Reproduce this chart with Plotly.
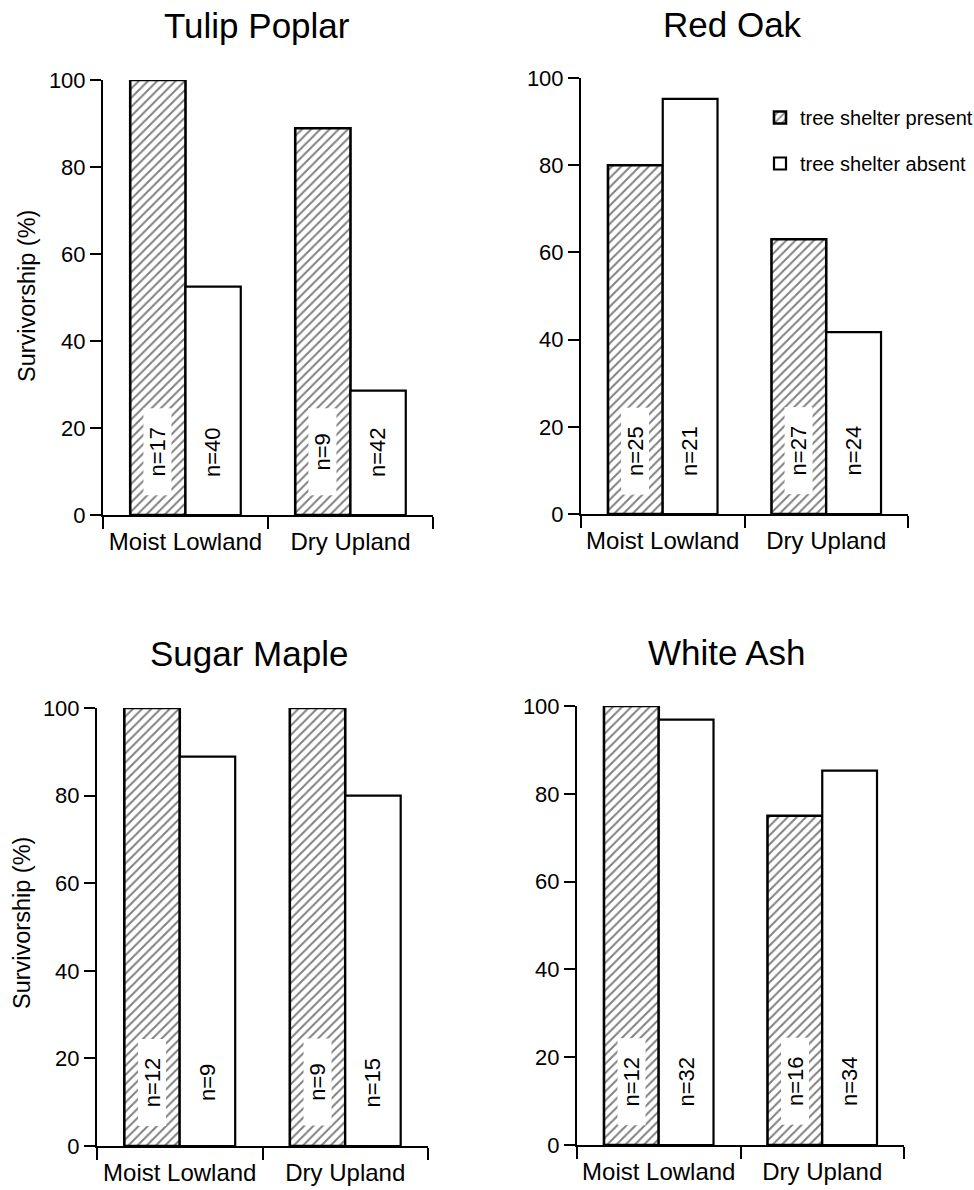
import plotly.graph_objects as go

# ---- data -------------------------------------------------------------
categories = ["Moist Lowland", "Dry Upland"]
species = ["Tulip Poplar", "Red Oak", "Sugar Maple", "White Ash"]

tulip_present = [100, 88.9]
tulip_absent = [52.5, 28.6]
oak_present = [80, 63.0]
oak_absent = [95.2, 41.7]
maple_present = [100, 100]
maple_absent = [88.9, 80]
ash_present = [100, 75]
ash_absent = [96.9, 85.3]

tulip_n_present = [17, 9]
tulip_n_absent = [40, 42]
oak_n_present = [25, 27]
oak_n_absent = [21, 24]
maple_n_present = [12, 9]
maple_n_absent = [9, 15]
ash_n_present = [12, 16]
ash_n_absent = [32, 34]

y_ticks = [0, 20, 40, 60, 80, 100]
y_title = "Survivorship (%)"
legend_present = "tree shelter present"
legend_absent = "tree shelter absent"

present = [tulip_present, oak_present, maple_present, ash_present]
absent = [tulip_absent, oak_absent, maple_absent, ash_absent]
n_present = [tulip_n_present, oak_n_present, maple_n_present, ash_n_present]
n_absent = [tulip_n_absent, oak_n_absent, maple_n_absent, ash_n_absent]

# ---- layout geometry (pixels) -----------------------------------------
W, H = 974, 1190
FONT = "Liberation Sans, Arial, Helvetica, sans-serif"
# plot boxes: left, right, top, bottom
boxes = [(103, 433, 80, 515), (581, 908, 78, 514),
         (97, 428, 708, 1146), (577, 904, 706, 1145)]
title_pos = [(257, 25), (732, 24), (249, 653), (727, 652)]
ylabel_pos = {0: (27, 296), 2: (22, 923)}

BARGAP = 0.33
half_w = (1 - BARGAP) / 4  # centre offset of each bar within its group

hatch = dict(shape="/", fgcolor="black", bgcolor="white", size=6.5, solidity=0.3)

fig = go.Figure()
annotations = []
layout_axes = {}

for k in range(4):
    sfx = "" if k == 0 else str(k + 1)
    xref, yref = "x" + sfx, "y" + sfx
    l, r, t, b = boxes[k]

    fig.add_trace(go.Bar(
        x=categories, y=present[k], xaxis=xref, yaxis=yref,
        name=legend_present, legendgroup="present", showlegend=(k == 0),
        marker=dict(color="white", line=dict(color="black", width=2.6), pattern=hatch),
    ))
    fig.add_trace(go.Bar(
        x=categories, y=absent[k], xaxis=xref, yaxis=yref,
        name=legend_absent, legendgroup="absent", showlegend=(k == 0),
        marker=dict(color="white", line=dict(color="black", width=2.2)),
    ))

    layout_axes["xaxis" + sfx] = dict(
        domain=[l / W, r / W], anchor=yref, type="category", range=[-0.5, 1.5],
        showline=True, linecolor="black", linewidth=2,
        ticks="outside", tickson="boundaries", ticklen=12, tickwidth=2, tickcolor="black",
        tickangle=0, ticklabelstandoff=4,
        tickfont=dict(size=24, color="black", family=FONT),
        showgrid=False, zeroline=False, fixedrange=True,
    )
    layout_axes["yaxis" + sfx] = dict(
        domain=[1 - b / H, 1 - t / H], anchor=xref, range=[0, 100],
        tickvals=y_ticks, showline=True, linecolor="black", linewidth=2,
        ticks="outside", ticklen=11, tickwidth=1.5, tickcolor="black",
        tickfont=dict(size=22, color="black", family=FONT),
        showgrid=False, zeroline=False, fixedrange=True,
    )

    # sample size labels, written sideways inside each bar
    for i in range(len(categories)):
        annotations.append(dict(
            x=i - half_w, y=14.5, xref=xref, yref=yref, text=f"n={n_present[k][i]}",
            textangle=-90, showarrow=False, bgcolor="white", width=86, height=27,
            borderpad=0, font=dict(size=22, color="black", family=FONT),
        ))
        annotations.append(dict(
            x=i + half_w, y=14.5, xref=xref, yref=yref, text=f"n={n_absent[k][i]}",
            textangle=-90, showarrow=False,
            font=dict(size=22, color="black", family=FONT),
        ))

    tx, ty = title_pos[k]
    annotations.append(dict(
        x=tx / W, y=1 - ty / H, xref="paper", yref="paper", text=species[k],
        showarrow=False, xanchor="center", yanchor="middle",
        font=dict(size=35, color="black", family=FONT),
    ))
    if k in ylabel_pos:
        lx, ly = ylabel_pos[k]
        annotations.append(dict(
            x=lx / W, y=1 - ly / H, xref="paper", yref="paper", text=y_title,
            textangle=-90, showarrow=False, xanchor="center", yanchor="middle",
            font=dict(size=23.5, color="black", family=FONT),
        ))

fig.update_layout(
    width=W, height=H,
    margin=dict(l=0, r=0, t=0, b=0, autoexpand=False),
    paper_bgcolor="white", plot_bgcolor="white",
    barmode="group", bargap=BARGAP, bargroupgap=0,
    font=dict(family=FONT, color="black"),
    showlegend=True,
    legend=dict(
        x=760 / W, y=1 - 98 / H, xanchor="left", yanchor="top",
        traceorder="grouped", tracegroupgap=17,
        font=dict(size=20, color="black", family=FONT),
        bgcolor="rgba(0,0,0,0)",
    ),
    annotations=annotations,
    **layout_axes,
)

fig.write_html("out.html")
